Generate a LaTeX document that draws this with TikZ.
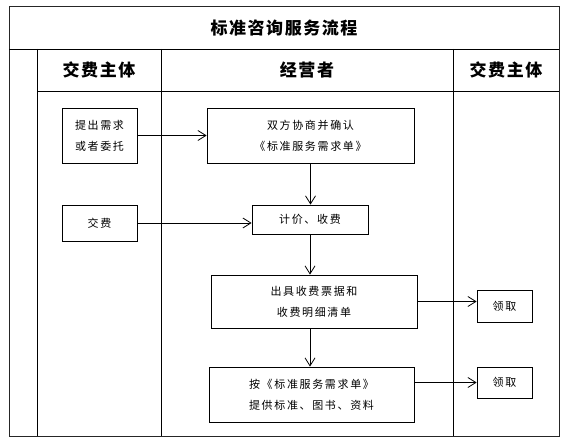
\documentclass[tikz,border=0pt]{standalone}
\usepackage{fontspec}
\newfontfamily\cjk[LetterSpace=15]{Noto Sans CJK SC}
\newfontfamily\cjkhead[LetterSpace=9]{Noto Sans CJK SC}
\usetikzlibrary{arrows.meta}
\tikzset{
	flowbox/.style={draw, line width=0.8pt, inner sep=0pt, align=center, font={\cjk\fontsize{11}{21}\selectfont}},
	headtext/.style={font={\cjkhead\bfseries\fontsize{17}{19}\selectfont}},
	flowarrow/.style={line width=0.8pt, -{Straight Barb[length=8pt,width=10pt]}}
}

\begin{document}
\begin{tikzpicture}[x=1pt, y=-1pt]
			%%%%% START %%%%%
			
			\useasboundingbox (0, 0) rectangle (569, 443);
			
			\draw[line width=1pt, color=black!85] (9, 7) rectangle (559, 436);
			\draw[line width=0.8pt] (9, 49) -- (559, 49);
			\draw[line width=0.8pt] (37, 91) -- (559, 91);
			\draw[line width=0.8pt] (37, 49) -- (37, 436);
			\draw[line width=0.8pt] (161, 49) -- (161, 436);
			\draw[line width=0.8pt] (453, 49) -- (453, 436);
			
			\node[headtext] (title) at (284, 28) {标准咨询服务流程};
			\node[headtext] (payerA) at (99, 70) {交费主体};
			\node[headtext] (operator) at (307, 70) {经营者};
			\node[headtext] (payerB) at (506, 70) {交费主体};
			
			\node[flowbox, minimum width=75pt, minimum height=55pt] (ask) at (99.5, 135.5) {提出需求\\或者委托};
			\node[flowbox, minimum width=207pt, minimum height=55pt] (confirm) at (310.5, 135.5) {双方协商并确认\\《标准服务需求单》};
			\node[flowbox, minimum width=75pt, minimum height=36pt] (pay) at (99.5, 223) {交费};
			\node[flowbox, minimum width=116pt, minimum height=29pt] (price) at (310, 219.5) {计价、收费};
			\node[flowbox, minimum width=206pt, minimum height=53pt] (issue) at (314, 301.5) {出具收费票据和\\收费明细清单};
			\node[flowbox, minimum width=205pt, minimum height=55pt] (provide) at (311.5, 394.5) {按《标准服务需求单》\\提供标准、图书、资料};
			\node[flowbox, minimum width=55pt, minimum height=32pt] (getA) at (504.5, 306) {领取};
			\node[flowbox, minimum width=55pt, minimum height=31pt] (getB) at (504.5, 382.5) {领取};
			
			\draw[flowarrow] (ask) -- (confirm);
			\draw[flowarrow] (pay.east) -- (pay.east -| price.west);
			\draw[flowarrow] (confirm.south) -- (confirm.south |- price.north);
			\draw[flowarrow] (price.south) -- (price.south |- issue.north);
			\draw[flowarrow] (price.south |- issue.south) -- (price.south |- provide.north);
			\draw[flowarrow] (issue.east) -- (issue.east -| getA.west);
			\draw[flowarrow] (provide.east |- getB.west) -- (getB.west);
			
			%%%%% END %%%%%
		\end{tikzpicture}
\end{document}
